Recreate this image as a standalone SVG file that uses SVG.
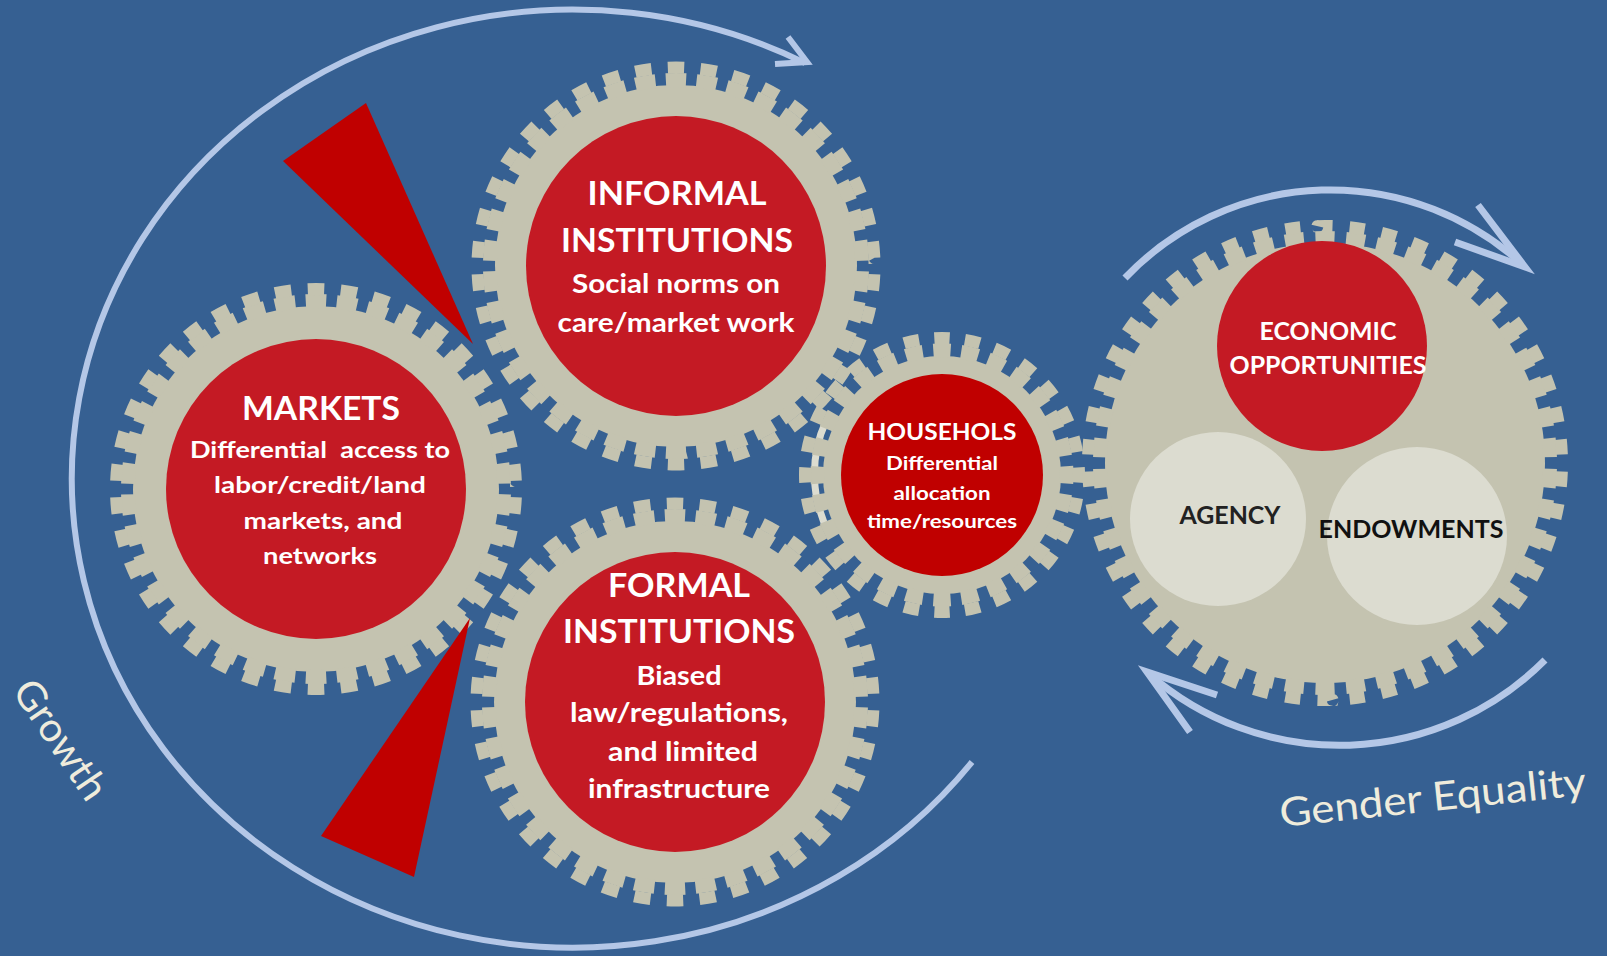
<svg xmlns="http://www.w3.org/2000/svg" width="1607" height="956" viewBox="0 0 1607 956">
<style>
.body{fill:#c4c3b0}
.tin{fill:none;stroke:#c4c3b0;stroke-width:14}
.tout{fill:none;stroke:#c4c3b0;stroke-width:12}
.red{fill:#c41a24}
.dred{fill:#c00000}
.pale{fill:#dcdcd0}
.arc{fill:none;stroke:#b4c7e7;stroke-width:6}
.arcR{fill:none;stroke:#b4c7e7;stroke-width:7}
.head{fill:none;stroke:#b4c7e7;stroke-width:6;stroke-linejoin:miter;stroke-miterlimit:10}
.headR{fill:none;stroke:#b4c7e7;stroke-width:7;stroke-linejoin:miter;stroke-miterlimit:10}
text{font-family:Lato,"Liberation Sans",sans-serif;text-anchor:middle}
.w{fill:#ffffff;font-weight:bold}
.h1{font-size:32px}
.h2{font-size:27px}
.m2{font-size:23px}
.hh1{font-size:23px}
.hh2{font-size:19px}
.lbl{fill:#efecdc;font-weight:normal;font-size:40px}
</style>

<rect x="0" y="0" width="1607" height="956" fill="#366092"/>

<g id="connectors">
  <path class="arc" d="M972,762 A501,469 0 1 1 805,63"/>
  <polyline class="head" points="788,37 807,62 775,64"/>
  <path class="arcR" d="M1125,278 A284,284 0 0 1 1523,265"/>
  <polyline class="headR" points="1478,205 1525,267 1455,242"/>
  <path class="arcR" d="M1545,660 A290,290 0 0 1 1149,674"/>
  <polyline class="headR" points="1217,695 1147,672 1190,732"/>
</g>

<g id="informal">
  <circle class="body" cx="676" cy="266" r="181"/>
  <circle class="tin" cx="676" cy="266" r="186" pathLength="38" stroke-dasharray="0.66 0.34" transform="rotate(-93.126 676 266)"/>
  <circle class="tout" cx="676" cy="266" r="198.5" pathLength="38" stroke-dasharray="0.5 0.5" transform="rotate(-92.368 676 266)"/>
  <circle class="red" cx="676" cy="266" r="150"/>
  <text class="w h1" x="677" y="205" textLength="179" lengthAdjust="spacingAndGlyphs">INFORMAL</text>
  <text class="w h1" x="677" y="252" textLength="232" lengthAdjust="spacingAndGlyphs">INSTITUTIONS</text>
  <text class="w h2" x="676" y="293" textLength="208" lengthAdjust="spacingAndGlyphs">Social norms on</text>
  <text class="w h2" x="676" y="332" textLength="237" lengthAdjust="spacingAndGlyphs">care/market work</text>
</g>

<g id="markets">
  <circle class="body" cx="316" cy="489" r="183"/>
  <circle class="tin" cx="316" cy="489" r="188" pathLength="38" stroke-dasharray="0.66 0.34" transform="rotate(-93.126 316 489)"/>
  <circle class="tout" cx="316" cy="489" r="200" pathLength="38" stroke-dasharray="0.5 0.5" transform="rotate(-92.368 316 489)"/>
  <circle class="red" cx="316" cy="489" r="150"/>
  <text class="w h1" x="321" y="420" textLength="158" lengthAdjust="spacingAndGlyphs">MARKETS</text>
  <text class="w m2" x="320" y="458" textLength="260" lengthAdjust="spacingAndGlyphs" style="white-space:pre">Differential  access to</text>
  <text class="w m2" x="320" y="493" textLength="212" lengthAdjust="spacingAndGlyphs">labor/credit/land</text>
  <text class="w m2" x="323" y="529" textLength="159" lengthAdjust="spacingAndGlyphs">markets, and</text>
  <text class="w m2" x="320" y="564" textLength="114" lengthAdjust="spacingAndGlyphs">networks</text>
</g>

<g id="formal">
  <circle class="body" cx="675" cy="702" r="181"/>
  <circle class="tin" cx="675" cy="702" r="186" pathLength="38" stroke-dasharray="0.66 0.34" transform="rotate(-93.126 675 702)"/>
  <circle class="tout" cx="675" cy="702" r="198.5" pathLength="38" stroke-dasharray="0.5 0.5" transform="rotate(-92.368 675 702)"/>
  <circle class="red" cx="675" cy="702" r="150"/>
  <text class="w h1" x="679" y="597" textLength="142" lengthAdjust="spacingAndGlyphs">FORMAL</text>
  <text class="w h1" x="679" y="643" textLength="232" lengthAdjust="spacingAndGlyphs">INSTITUTIONS</text>
  <text class="w h2" x="679" y="685" textLength="85" lengthAdjust="spacingAndGlyphs">Biased</text>
  <text class="w h2" x="679" y="722" textLength="218" lengthAdjust="spacingAndGlyphs">law/regulations,</text>
  <text class="w h2" x="683" y="761" textLength="150" lengthAdjust="spacingAndGlyphs">and limited</text>
  <text class="w h2" x="679" y="798" textLength="182" lengthAdjust="spacingAndGlyphs">infrastructure</text>
</g>

<g id="households">
  <path d="M829,533 A127,127 0 0 1 826,421" fill="none" stroke="#dcdcd0" stroke-width="7"/>
  <circle class="body" cx="942" cy="475" r="119"/>
  <circle class="tin" cx="942" cy="475" r="124.5" stroke-width="13" pathLength="28" stroke-dasharray="0.62 0.38" transform="rotate(-93.986 942 475)"/>
  <circle class="tout" cx="942" cy="475" r="137" pathLength="28" stroke-dasharray="0.5 0.5" transform="rotate(-93.214 942 475)"/>
  <circle class="dred" cx="942" cy="475" r="101"/>
  <text class="w hh1" x="942" y="440" textLength="149" lengthAdjust="spacingAndGlyphs">HOUSEHOLS</text>
  <text class="w hh2" x="942" y="470" textLength="112" lengthAdjust="spacingAndGlyphs">Differential</text>
  <text class="w hh2" x="942" y="500" textLength="97" lengthAdjust="spacingAndGlyphs">allocation</text>
  <text class="w hh2" x="942" y="528" textLength="150" lengthAdjust="spacingAndGlyphs">time/resources</text>
</g>

<g id="gender-gear">
  <circle class="body" cx="1325" cy="463" r="220"/>
  <circle class="tin" cx="1325" cy="463" r="225" stroke-width="12" pathLength="46" stroke-dasharray="0.62 0.38" transform="rotate(-92.426 1325 463)"/>
  <circle class="tout" cx="1325" cy="463" r="237" pathLength="46" stroke-dasharray="0.47 0.53" transform="rotate(-91.839 1325 463)"/>
</g>

<g id="economic-opportunities">
  <circle class="red" cx="1322" cy="346" r="105"/>
  <text class="w" x="1328" y="340" font-size="25" textLength="137" lengthAdjust="spacingAndGlyphs">ECONOMIC</text>
  <text class="w" x="1328" y="374" font-size="25" textLength="197" lengthAdjust="spacingAndGlyphs">OPPORTUNITIES</text>
</g>

<g id="agency">
  <ellipse class="pale" cx="1218" cy="519" rx="88" ry="87"/>
  <text x="1230" y="524" font-size="25" font-weight="bold" fill="#222222" textLength="101" lengthAdjust="spacingAndGlyphs">AGENCY</text>
</g>

<g id="endowments">
  <ellipse class="pale" cx="1417" cy="536" rx="90" ry="89"/>
  <text x="1411" y="538" font-size="24" font-weight="bold" fill="#111111" textLength="185" lengthAdjust="spacingAndGlyphs">ENDOWMENTS</text>
</g>

<g id="wedges">
  <polygon class="dred" points="366,103 283,161 473,344"/>
  <polygon class="dred" points="470,618 321,836 414,877"/>
</g>

<g id="labels">
  <text class="lbl" transform="translate(60,740) rotate(56)" x="0" y="13" font-size="36" textLength="136" lengthAdjust="spacingAndGlyphs">Growth</text>
  <text class="lbl" transform="rotate(-6 1281 827)" x="1281" y="827" style="text-anchor:start" textLength="308" lengthAdjust="spacingAndGlyphs">Gender Equality</text>
</g>
</svg>
